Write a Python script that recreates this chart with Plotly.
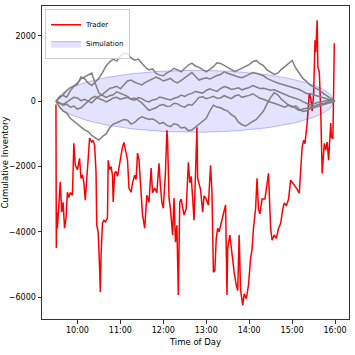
import numpy as np
import pandas as pd
import plotly.graph_objects as go

DAY = "2020-01-02 "

# Trader cumulative inventory (time, value)
trader_times = [
    "09:30:00", "09:30:30", "09:31:00", "09:32:00", "09:34:00", "09:36:00", "09:38:00", "09:40:00",
    "09:42:00", "09:44:00", "09:46:00", "09:48:00", "09:50:00", "09:53:00", "09:55:00", "09:57:00",
    "10:00:00", "10:03:00", "10:05:00", "10:07:00", "10:09:00", "10:11:00", "10:13:00", "10:15:00",
    "10:17:00", "10:20:00", "10:22:00", "10:24:00", "10:26:00", "10:27:00", "10:29:00", "10:31:00",
    "10:32:00", "10:33:00", "10:35:00", "10:37:00", "10:39:00", "10:42:00", "10:43:00", "10:45:00",
    "10:47:00", "10:49:00", "10:50:00", "10:52:00", "10:54:00", "10:56:00", "10:59:00", "11:01:00",
    "11:03:00", "11:05:00", "11:08:00", "11:10:00", "11:12:00", "11:15:00", "11:17:00", "11:20:00",
    "11:22:00", "11:24:00", "11:26:00", "11:28:00", "11:31:00", "11:34:00", "11:37:00", "11:40:00",
    "11:43:00", "11:45:00", "11:48:00", "11:51:00", "11:54:00", "11:56:00", "11:58:00", "12:00:00",
    "12:03:00", "12:05:00", "12:06:00", "12:08:00", "12:10:00", "12:13:00", "12:15:00", "12:17:00",
    "12:19:00", "12:21:00", "12:23:00", "12:25:00", "12:27:00", "12:29:00", "12:32:00", "12:35:00",
    "12:37:00", "12:39:00", "12:43:00", "12:45:00", "12:47:00", "12:48:00", "12:50:00", "12:52:00",
    "12:55:00", "12:57:00", "13:00:00", "13:03:00", "13:06:00", "13:08:00", "13:10:00", "13:12:00",
    "13:14:00", "13:16:00", "13:18:00", "13:21:00", "13:24:00", "13:27:00", "13:29:00", "13:30:00",
    "13:33:00", "13:36:00", "13:39:00", "13:42:00", "13:44:00", "13:46:00", "13:48:00", "13:51:00",
    "13:53:00", "13:56:00", "13:59:00", "14:02:00", "14:04:00", "14:06:00", "14:09:00", "14:11:00",
    "14:13:00", "14:15:00", "14:18:00", "14:22:00", "14:25:00", "14:27:00", "14:30:00", "14:32:00",
    "14:35:00", "14:38:00", "14:41:00", "14:44:00", "14:47:00", "14:49:00", "14:52:00", "14:55:00",
    "14:58:00", "15:01:00", "15:04:00", "15:07:00", "15:10:00", "15:12:00", "15:14:00", "15:16:00",
    "15:18:00", "15:21:00", "15:24:00", "15:26:00", "15:28:00", "15:30:00", "15:32:00", "15:33:00",
    "15:35:00", "15:36:00", "15:38:00", "15:40:00", "15:41:00", "15:42:00", "15:45:00", "15:47:00",
    "15:49:00", "15:51:00", "15:54:00", "15:55:00", "15:57:00", "15:59:00",
]
trader_values = [
    -100, -4500, -3400, -3900, -3300, -2480, -3400, -3100,
    -3890, -3600, -2790, -2950, -2800, -2880, -1290, -1960,
    -2100, -1750, -2370, -2250, -2500, -3030, -2400, -1700,
    -1130, -1250, -1200, -1350, -2170, -3800, -4010, -5110,
    -5850, -4720, -3740, -3650, -3700, -3580, -1810, -2100,
    -2000, -2270, -3090, -2200, -2150, -2300, -1900, -1750,
    -1400, -1260, -1560, -1800, -2660, -2790, -2500, -2270,
    -2400, -1590, -1800, -2570, -3490, -3890, -2880, -3100,
    -2050, -2800, -2660, -2800, -1900, -2600, -3100, -3280,
    -2200, -890, -1200, -2970, -3300, -4100, -2970, -4320,
    -3800, -5940, -3090, -3000, -3200, -3490, -3300, -1870,
    -2500, -2300, -3650, -2300, -800, -2360, -2570, -2700,
    -3400, -2900, -3000, -3180, -1960, -2790, -5240, -5200,
    -4200, -3890, -4000, -3700, -3400, -3180, -5940, -4500,
    -4100, -4700, -5240, -5640, -5800, -4100, -5800, -6250,
    -5900, -6050, -5640, -4810, -4550, -3890, -3280, -2360,
    -3300, -3450, -3000, -3000, -2600, -2210, -3890, -4260,
    -4100, -4200, -3900, -3740, -3300, -3120, -3200, -3000,
    -2420, -2500, -2600, -2700, -2820, -2110, -1410, -1200,
    -1300, -670, 250, 100, -300, 200, 1870, 1500,
    2480, 1040, 900, -280, -1900, -2210, -1290, -1500,
    -1250, -1810, -670, -1100, -1150, 1780,
]

# Simulated paths on a 5-minute grid, 09:30 to 16:00
sim_start = "09:30"
sim_step_min = 5
sim_path_a = [0, 140, 180, 120, 320, 460, 520, 740, 690, 560,
              480, 590, 700, 880, 1080, 1200, 1290, 1230, 1380, 1470,
              1460, 1330, 1260, 1290, 1150, 1040, 960, 990, 850, 800,
              780, 870, 920, 1010, 960, 900, 1010, 1110, 1170, 1080,
              1040, 960, 900, 980, 1060, 1180, 1160, 1100, 1040, 960,
              910, 960, 1010, 1070, 1120, 1210, 1250, 1150, 1090, 960,
              880, 820, 860, 980, 1060, 1150, 1250, 1020, 860, 700,
              610, 500, 440, 380, 310, 220, 140, 80, 0]
sim_path_b = [0, -180, -300, -360, -520, -610, -680, -790, -880, -930,
              -1050, -1120, -1190, -1080, -1000, -820, -700, -660, -620, -560,
              -580, -700, -650, -540, -480, -520, -560, -540, -600, -690,
              -650, -740, -780, -690, -720, -820, -800, -900, -880, -790,
              -700, -600, -520, -300, -120, -180, -200, -260, -300, -410,
              -480, -640, -720, -760, -680, -620, -560, -420, -300, -80,
              120, 260, 200, 60, -40, -120, -180, -140, -250, -310,
              -290, -230, -200, -160, -120, -90, -60, -40, 0]
sim_path_c = [0, 90, 200, 330, 420, 470, 560, 690, 750, 820,
              860, 540, 250, 180, 120, 170, 200, 290, 240, 200,
              150, 60, 30, 110, 80, 10, -20, 40, 60, 130,
              100, 70, 40, 90, 120, 190, 150, 210, 240, 300,
              280, 250, 330, 380, 340, 300, 390, 450, 420, 360,
              380, 410, 350, 380, 420, 480, 440, 390, 400, 360,
              340, 350, 300, 240, 200, 160, 120, 90, 50, -10,
              -60, -110, -80, -40, -30, 10, 20, 30, 0]
sim_path_d = [0, -60, -100, -30, 40, 120, 100, 20, 60, 10,
              -50, 60, 150, 210, 300, 390, 420, 460, 380, 490,
              620, 650, 580, 540, 500, 580, 640, 700, 740, 690,
              620, 660, 700, 610, 560, 640, 720, 810, 880, 760,
              650, 690, 720, 680, 740, 790, 820, 900, 860, 830,
              780, 740, 720, 770, 820, 880, 860, 820, 780, 700,
              640, 600, 560, 530, 500, 470, 430, 400, 360, 300,
              240, 230, 200, 150, 120, 100, 60, 30, 0]
sim_path_e = [0, -70, -120, -90, -180, -150, -240, -200, -100, 20,
              100, 150, 80, 40, -20, 30, 100, 120, 60, 90,
              120, 60, 100, 30, -50, -170, -280, -240, -200, -120,
              -100, -160, -150, -60, -80, -150, -180, -100, -120, -10,
              120, 140, 80, 110, 150, 90, 100, 170, 120, 80,
              160, 200, 120, 140, 180, 230, 150, 90, 60, 10,
              -30, -60, -100, -150, -180, -120, -150, -220, -280, -240,
              -220, -190, -150, -110, -80, -60, -20, 20, 0]

# Simulation envelope (ellipse): centre time, half-width (minutes), half-height
ell_center_time = "12:45"
ell_center_value = 0
ell_half_width_min = 193
ell_half_height = 950

y_ticks = [-6000, -4000, -2000, 0, 2000]
x_tick_labels = ["10:00", "11:00", "12:00", "13:00", "14:00", "15:00", "16:00"]

fig = go.Figure()

tt = pd.to_datetime([DAY + t for t in trader_times])
fig.add_trace(go.Scatter(x=tt, y=trader_values, mode="lines", name="Trader",
                         line=dict(color="red", width=1.5), legendrank=1))

theta = np.linspace(0, 2 * np.pi, 200)
c = pd.Timestamp(DAY + ell_center_time)
ex = [c + pd.Timedelta(minutes=float(ell_half_width_min * np.cos(a))) for a in theta]
ey = ell_center_value + ell_half_height * np.sin(theta)
fig.add_trace(go.Scatter(x=ex, y=ey, mode="lines", fill="toself", name="Simulation",
                         fillcolor="rgba(0,0,255,0.11)", line=dict(color="rgba(0,0,255,0.25)", width=1),
                         legendrank=2))

for p in [sim_path_a, sim_path_b, sim_path_c, sim_path_d, sim_path_e]:
    st = pd.date_range(DAY + sim_start, periods=len(p), freq=f"{sim_step_min}min")
    fig.add_trace(go.Scatter(x=st, y=p, mode="lines", showlegend=False,
                             line=dict(color="#7f7f7f", width=1.5)))

axis_common = dict(showline=True, linecolor="#333333", linewidth=1, mirror=True, ticks="outside",
                   ticklen=3.5, tickcolor="#333333", showgrid=False, zeroline=False, automargin=False,
                   tickfont=dict(family="DejaVu Sans", size=8, color="black"))

fig.update_layout(
    width=355, height=355,
    margin=dict(l=42, r=6, t=6, b=36),
    paper_bgcolor="white", plot_bgcolor="white",
    font=dict(family="DejaVu Sans", size=8, color="black"),
    xaxis=dict(type="date", range=[DAY + "09:10:30", DAY + "16:19:30"],
               tickvals=[pd.Timestamp(DAY + t) for t in x_tick_labels], ticktext=x_tick_labels,
               title=dict(text="Time of Day", font=dict(size=8.5), standoff=4), **axis_common),
    yaxis=dict(range=[-6674, 2919], tickvals=y_ticks,
               title=dict(text="Cumulative Inventory", font=dict(size=8.5), standoff=2), **axis_common),
    legend=dict(x=0.01, y=0.99, xanchor="left", yanchor="top", bgcolor="rgba(255,255,255,0.8)",
                bordercolor="#cccccc", borderwidth=1, font=dict(size=7),
                tracegroupgap=0, itemwidth=30),
    showlegend=True,
)

fig.write_html("out.html", config={"displayModeBar": False},
               post_script="document.body.style.margin='0';")
